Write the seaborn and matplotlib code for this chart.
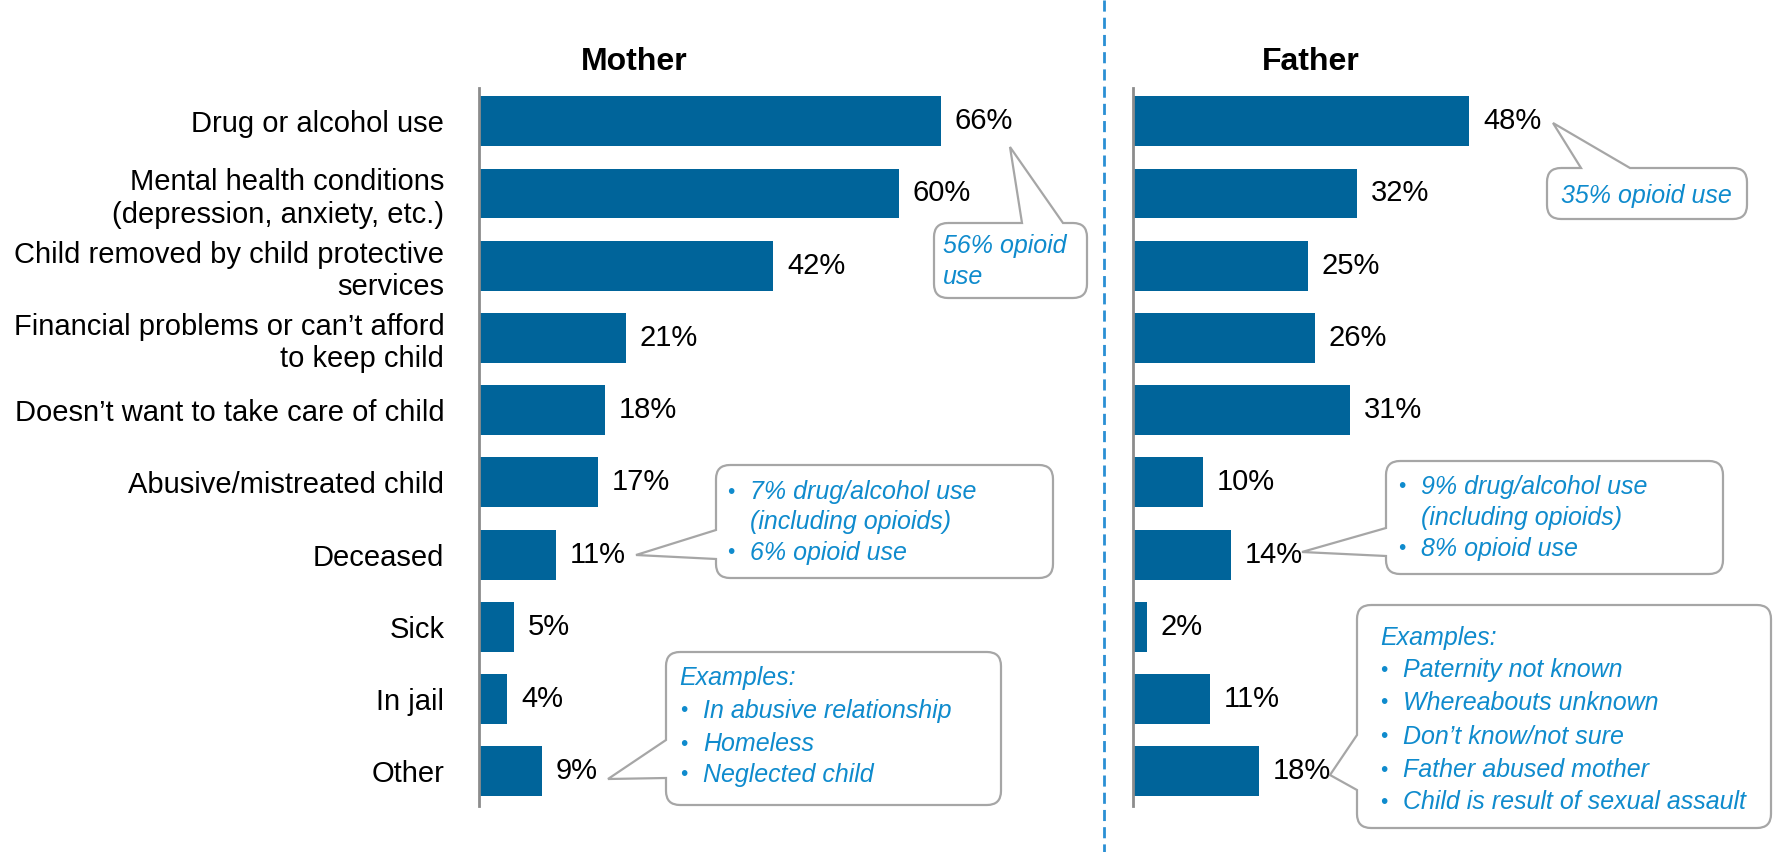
import seaborn as sns
import pandas as pd
import matplotlib.pyplot as plt
from matplotlib.path import Path
from matplotlib.patches import PathPatch
from matplotlib.lines import Line2D
from matplotlib.transforms import Affine2D

reasons = ["Drug or alcohol use",
           "Mental health conditions\n(depression, anxiety, etc.)",
           "Child removed by child protective\nservices",
           "Financial problems or can\u2019t afford\nto keep child",
           "Doesn\u2019t want to take care of child",
           "Abusive/mistreated child",
           "Deceased",
           "Sick",
           "In jail",
           "Other"]
mother = [66, 60, 42, 21, 18, 17, 11, 5, 4, 9]
father = [48, 32, 25, 26, 31, 10, 14, 2, 11, 18]

df = pd.DataFrame({"reason": reasons, "Mother": mother, "Father": father})

sns.set_theme(style="white")
plt.rcParams['font.family'] = ['Liberation Sans', 'DejaVu Sans']

BAR = "#00649A"
BLUE = "#0F8BCD"
W, H = 1775, 852

fig = plt.figure(figsize=(W / 100, H / 100), dpi=100)
px = Affine2D().scale(1 / W, -1 / H).translate(0, 1) + fig.transFigure

ax_m = fig.add_axes([479 / W, 1 - 806 / H, 601 / W, 718 / H])
ax_f = fig.add_axes([1133 / W, 1 - 806 / H, 642 / W, 718 / H])

for ax, col in [(ax_m, "Mother"), (ax_f, "Father")]:
    sns.barplot(data=df, x=col, y="reason", color=BAR, width=0.69,
                linewidth=0, saturation=1, ax=ax)
    ax.bar_label(ax.containers[0], fmt="%d%%", padding=10, fontsize=21,
                 color="black")
    ax.set_ylim(9.48, -0.46)
    ax.set_xlim(0, ax.get_position().width * W / 7.0)
    for s in ["top", "right", "bottom"]:
        ax.spines[s].set_visible(False)
    ax.spines["left"].set_color("#8C8C8C")
    ax.spines["left"].set_linewidth(2)
    ax.set_xticks([])
    ax.set_xlabel("")
    ax.set_ylabel("")
    ax.tick_params(axis="y", length=0, pad=25, labelsize=21,
                   labelcolor="black")

ax_f.set_yticklabels([])

fig.text(634, 62, "Mother", transform=px, ha="center", va="center",
         fontsize=23, fontweight="bold", color="black")
fig.text(1311, 62, "Father", transform=px, ha="center", va="center",
         fontsize=23, fontweight="bold", color="black")

fig.add_artist(Line2D([1104, 1104], [0, H], transform=px, color="#2A8FD4",
                      lw=2, linestyle=(0, (4, 2.2))))


def bubble(x0, y0, x1, y1, side, b0, b1, tip, r=14):
    v = [(x0 + r, y0)]
    c = [Path.MOVETO]
    if side == "top":
        v += [(b0, y0), tip, (b1, y0)]
        c += [Path.LINETO] * 3
    v += [(x1 - r, y0), (x1, y0), (x1, y0 + r)]
    c += [Path.LINETO, Path.CURVE3, Path.CURVE3]
    v += [(x1, y1 - r), (x1, y1), (x1 - r, y1)]
    c += [Path.LINETO, Path.CURVE3, Path.CURVE3]
    v += [(x0 + r, y1), (x0, y1), (x0, y1 - r)]
    c += [Path.LINETO, Path.CURVE3, Path.CURVE3]
    if side == "left":
        v += [(x0, b1), tip, (x0, b0)]
        c += [Path.LINETO] * 3
    v += [(x0, y0 + r), (x0, y0), (x0 + r, y0)]
    c += [Path.LINETO, Path.CURVE3, Path.CURVE3]
    fig.add_artist(PathPatch(Path(v, c), transform=px, facecolor="white",
                             edgecolor="#A6A6A6", lw=1.6, zorder=5))


def note(x, y, s):
    fig.text(x, y, s, transform=px, ha="left", va="center", fontsize=18,
             style="italic", color=BLUE, zorder=6)


def dot(x, y):
    fig.text(x, y, "\u2022", transform=px, ha="left", va="center",
             fontsize=15, color=BLUE, zorder=6)


# mother: drug use
bubble(934, 223, 1087, 298, "top", 1022, 1063, (1010, 147))
note(943, 246, "56% opioid")
note(943, 277, "use")

# mother: deceased
bubble(716, 465, 1053, 578, "left", 530, 559, (636, 555))
dot(727, 492)
note(750, 492, "7% drug/alcohol use")
note(750, 522, "(including opioids)")
dot(727, 553)
note(750, 553, "6% opioid use")

# mother: other
bubble(666, 652, 1001, 805, "left", 740, 778, (608, 779))
note(679, 678, "Examples:")
for y, s in [(711, "In abusive relationship"), (744, "Homeless"),
             (775, "Neglected child")]:
    dot(680, y)
    note(703, y, s)

# father: drug use
bubble(1547, 168, 1747, 219, "top", 1581, 1630, (1553, 123))
note(1561, 196, "35% opioid use")

# father: deceased
bubble(1386, 461, 1723, 574, "left", 528, 556, (1302, 552))
dot(1398, 487)
note(1421, 487, "9% drug/alcohol use")
note(1421, 518, "(including opioids)")
dot(1398, 549)
note(1421, 549, "8% opioid use")

# father: other
bubble(1357, 605, 1771, 828, "left", 735, 790, (1330, 775))
note(1380, 638, "Examples:")
for y, s in [(670, "Paternity not known"), (703, "Whereabouts unknown"),
             (737, "Don\u2019t know/not sure"), (770, "Father abused mother"),
             (802, "Child is result of sexual assault")]:
    dot(1380, y)
    note(1403, y, s)

fig.savefig("out.png", dpi=100)
